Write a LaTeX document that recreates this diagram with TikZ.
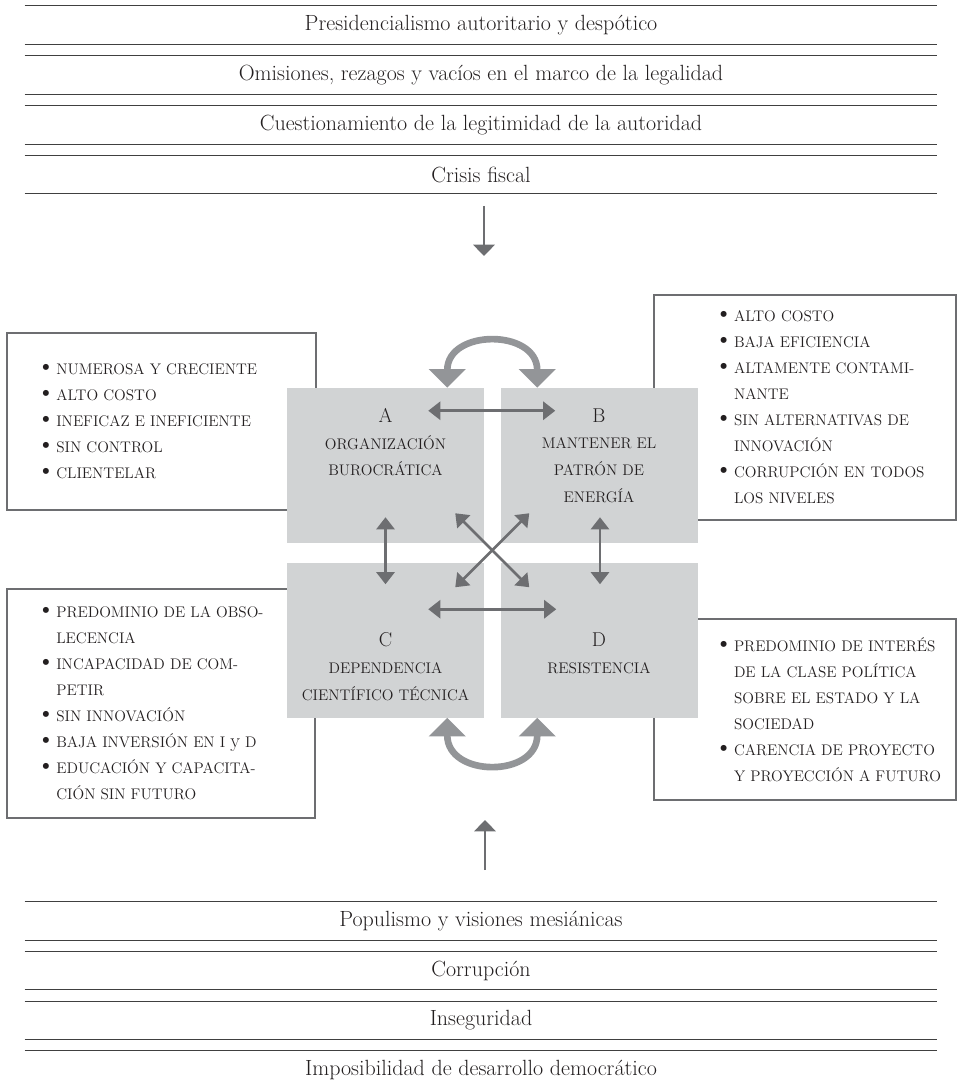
\documentclass[tikz,border=0pt]{standalone}
\usepackage{tikz}
\usetikzlibrary{
    arrows.meta,
    positioning,
    calc
}

\definecolor{cajagris}{RGB}{209,211,212}
\definecolor{flechagris}{RGB}{109,110,113}
\definecolor{curvagris}{RGB}{147,149,152}
\definecolor{bordegris}{RGB}{109,110,113}
\definecolor{tinta}{RGB}{35,31,32}

\newlength{\sangria}
\newcommand{\vineta}{{\fontsize{20}{0}\selectfont\textbullet}}
\newcommand{\pto}[1]{\hspace*{\sangria}\makebox[15pt][l]{\vineta}\mbox{#1}}
\newcommand{\sigue}[1]{\hspace*{\sangria}\hspace*{15pt}\mbox{#1}}
\newcommand{\letra}{\fontsize{15}{20}\selectfont}

\begin{document}
\begin{tikzpicture}[
    x=0.75pt, y=-0.75pt,
    franja/.style={
        minimum width=684pt,
        minimum height=28.5pt,
        inner sep=0pt,
        text=tinta,
        font=\fontsize{16.5}{19}\selectfont
    },
    raya/.style={line width=1pt, draw=black!75},
    cuadro/.style={
        fill=cajagris,
        minimum width=147.75pt,
        minimum height=116.25pt,
        inner sep=0pt
    },
    rotulo/.style={
        anchor=north,
        align=center,
        text=tinta,
        font=\fontsize{11.5}{20}\selectfont
    },
    lista/.style={
        draw=bordegris,
        line width=1.5pt,
        fill=white,
        align=left,
        inner xsep=8pt,
        inner ysep=0pt,
        text=tinta,
        font=\fontsize{11.5}{19.5}\selectfont
    },
    listaizq/.style={lista, execute at begin node={\setlength{\sangria}{14pt}\noindent}},
    listader/.style={lista, execute at begin node={\setlength{\sangria}{37pt}\noindent}},
    flecha/.style={line width=1.9pt, draw=flechagris, -{Triangle[length=8.5pt,width=16pt]}},
    doble/.style={line width=1.9pt, draw=flechagris,
        {Triangle[length=9pt,width=13.5pt]}-{Triangle[length=9pt,width=13.5pt]}},
    curva/.style={line width=5pt, draw=curvagris,
        {Triangle[length=14pt,width=27pt]}-{Triangle[length=14pt,width=27pt]}}
]
\useasboundingbox (0,0) rectangle (963,1087);

% ============================================================
% FRANJAS SUPERIORES
% ============================================================
\node[franja] (p1) at (481,25) {Presidencialismo autoritario y despótico};
\node[franja] (p2) at (481,75) {Omisiones, rezagos y vacíos en el marco de la legalidad};
\node[franja] (p3) at (481,125) {Cuestionamiento de la legitimidad de la autoridad};
\node[franja] (p4) at (481,174.5) {Crisis fiscal};
\foreach \n in {p1,p2,p3,p4} {
    \draw[raya] (\n.north west) -- (\n.north east) (\n.south west) -- (\n.south east);
}

% ============================================================
% FRANJAS INFERIORES
% ============================================================
\node[franja] (q1) at (481,921) {Populismo y visiones mesiánicas};
\node[franja] (q2) at (481,970.5) {Corrupción};
\node[franja] (q3) at (481,1020.5) {Inseguridad};
\node[franja] (q4) at (481,1070) {Imposibilidad de desarrollo democrático};
\foreach \n in {q1,q2,q3} {
    \draw[raya] (\n.north west) -- (\n.north east) (\n.south west) -- (\n.south east);
}
\draw[raya] (q4.north west) -- (q4.north east);

% ============================================================
% LISTAS LATERALES
% ============================================================
\node[listaizq, text width=215.75pt, minimum height=132.75pt] (L1) at (161.5,421.5) {%
    \pto{NUMEROSA Y CRECIENTE}\\
    \pto{ALTO COSTO}\\
    \pto{INEFICAZ E INEFICIENTE}\\
    \pto{SIN CONTROL}\\
    \pto{CLIENTELAR}};
\node[listader, text width=210.5pt, minimum height=168.75pt] (R1) at (805,407.5) {%
    \pto{ALTO COSTO}\\
    \pto{BAJA EFICIENCIA}\\
    \pto{ALTAMENTE CONTAMI-}\\
    \sigue{NANTE}\\
    \pto{SIN ALTERNATIVAS DE}\\
    \sigue{INNOVACIÓN}\\
    \pto{CORRUPCIÓN EN TODOS}\\
    \sigue{LOS NIVELES}};
\node[listaizq, text width=215pt, minimum height=171.75pt] (L2) at (161,703.5) {%
    \pto{PREDOMINIO DE LA OBSO-}\\
    \sigue{LECENCIA}\\
    \pto{INCAPACIDAD DE COM-}\\
    \sigue{PETIR}\\
    \pto{SIN INNOVACIÓN}\\
    \pto{BAJA INVERSIÓN EN I {\fontsize{15}{19.5}\selectfont y} D}\\
    \pto{EDUCACIÓN Y CAPACITA-}\\
    \sigue{CIÓN SIN FUTURO}};
\node[listader, text width=210.5pt, minimum height=135.75pt] (R2) at (805,709.5) {%
    \pto{PREDOMINIO DE INTERÉS}\\
    \sigue{DE LA CLASE POLÍTICA}\\
    \sigue{SOBRE EL ESTADO Y LA}\\
    \sigue{SOCIEDAD}\\
    \pto{CARENCIA DE PROYECTO}\\
    \sigue{Y PROYECCIÓN A FUTURO}};

% ============================================================
% CUADROS CENTRALES
% ============================================================
\node[cuadro, label={[rotulo, yshift=-12pt]north:{{\letra A}\\ORGANIZACIÓN\\BUROCRÁTICA}}] (A) at (385.5,465.5) {};
\node[cuadro, label={[rotulo, yshift=-12pt]north:{{\letra B}\\MANTENER EL\\PATRÓN DE\\ENERGÍA}}] (B) at (599,465.5) {};
\node[cuadro, label={[rotulo, yshift=-49.5pt]north:{{\letra C}\\DEPENDENCIA\\CIENTÍFICO TÉCNICA}}] (C) at (385.5,640) {};
\node[cuadro, label={[rotulo, yshift=-49.5pt]north:{{\letra D}\\RESISTENCIA}}] (D) at (599,640) {};

% ============================================================
% CONEXIONES
% ============================================================

% Crisis fiscal -> cuadros, y hacia arriba desde las franjas inferiores
\coordinate (baja1) at (484,206);
\coordinate (baja2) at (484,256);
\draw[flecha] (baja1) -- (baja2);
\coordinate (sube1) at (485,870);
\coordinate (sube2) at (485,820);
\draw[flecha] (sube1) -- (sube2);

% Entre cuadros
\draw[doble] ([shift={(-56,23)}]A.north east) -- ([shift={(55,23)}]B.north west);
\draw[doble] ([shift={(-56,47)}]C.north east) -- ([shift={(56,47)}]D.north west);
\draw[doble] ([shift={(0,-26)}]A.south) -- ([shift={(0,22)}]C.north);
\draw[doble] ([shift={(1,-26)}]B.south) -- ([shift={(1,22)}]D.north);
\draw[doble] ([shift={(-29,-30)}]A.south east) -- ([shift={(29,25)}]D.north west);
\draw[doble] ([shift={(29,-30)}]B.south west) -- ([shift={(-29,25)}]C.north east);

% Flechas curvas
\draw[curva] ([shift={(-37,0)}]A.north east) .. controls +(0,-59) and +(0,-59) .. ([shift={(37,0)}]B.north west);
\draw[curva] ([shift={(-37,0)}]C.south east) .. controls +(0,60) and +(0,60) .. ([shift={(37,0)}]D.south west);

\end{tikzpicture}
\end{document}
